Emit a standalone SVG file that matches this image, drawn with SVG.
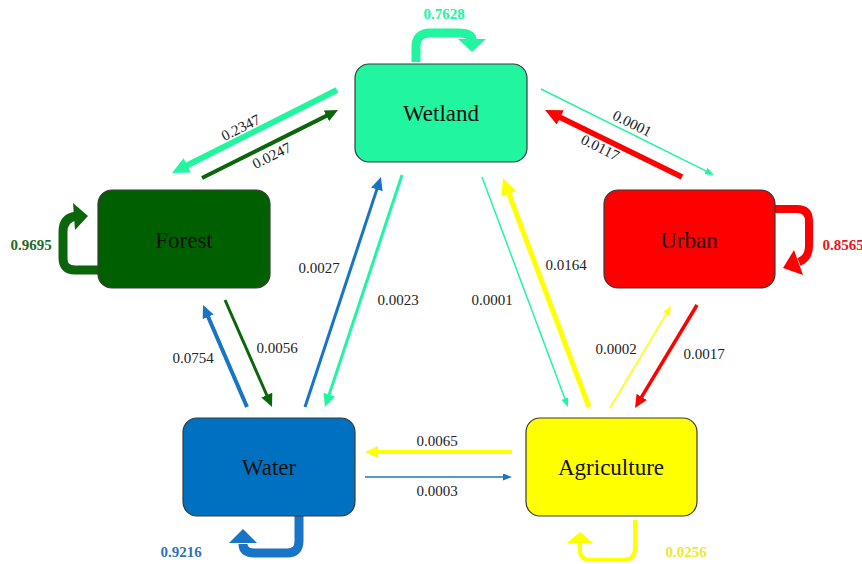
<svg xmlns="http://www.w3.org/2000/svg" width="862" height="564" viewBox="0 0 862 564">
<style>
.node{stroke:#3a3a3a;stroke-width:1.2}
.nl{font-family:"Liberation Serif","Times New Roman",serif;font-size:23px;fill:#111;text-anchor:middle}
.el{font-family:"Liberation Serif","Times New Roman",serif;font-size:15px;fill:#222;text-anchor:middle}
.sl{font-family:"Liberation Serif","Times New Roman",serif;font-size:15px;font-weight:bold;text-anchor:middle}
.e{fill:none;stroke-linecap:butt}
.loop{fill:none;stroke-linecap:butt;stroke-linejoin:round}
</style>
<defs>
<marker id="bG" markerUnits="userSpaceOnUse" markerWidth="17" markerHeight="16" refX="1" refY="8" orient="auto"><path d="M0,0 L17,8 L0,16 z" fill="#22F5A0"/></marker>
<marker id="bR" markerUnits="userSpaceOnUse" markerWidth="17" markerHeight="16" refX="1" refY="8" orient="auto"><path d="M0,0 L17,8 L0,16 z" fill="#FF0000"/></marker>
<marker id="bY" markerUnits="userSpaceOnUse" markerWidth="17" markerHeight="16" refX="1" refY="8" orient="auto"><path d="M0,0 L17,8 L0,16 z" fill="#FFFF00"/></marker>
<marker id="mD" markerUnits="userSpaceOnUse" markerWidth="13" markerHeight="12" refX="1" refY="6" orient="auto"><path d="M0,0 L13,6 L0,12 z" fill="#0B660B"/></marker>
<marker id="mB" markerUnits="userSpaceOnUse" markerWidth="13" markerHeight="12" refX="1" refY="6" orient="auto"><path d="M0,0 L13,6 L0,12 z" fill="#1874C4"/></marker>
<marker id="mG" markerUnits="userSpaceOnUse" markerWidth="13" markerHeight="12" refX="1" refY="6" orient="auto"><path d="M0,0 L13,6 L0,12 z" fill="#22F5A0"/></marker>
<marker id="mR" markerUnits="userSpaceOnUse" markerWidth="13" markerHeight="12" refX="1" refY="6" orient="auto"><path d="M0,0 L13,6 L0,12 z" fill="#FF0000"/></marker>
<marker id="mY" markerUnits="userSpaceOnUse" markerWidth="13" markerHeight="12" refX="1" refY="6" orient="auto"><path d="M0,0 L13,6 L0,12 z" fill="#FFFF00"/></marker>
<marker id="sG" markerUnits="userSpaceOnUse" markerWidth="9" markerHeight="7" refX="1" refY="3.5" orient="auto"><path d="M0,0 L9,3.5 L0,7 z" fill="#22F5A0"/></marker>
<marker id="sY" markerUnits="userSpaceOnUse" markerWidth="9" markerHeight="7" refX="1" refY="3.5" orient="auto"><path d="M0,0 L9,3.5 L0,7 z" fill="#FFFF00"/></marker>
<marker id="sB" markerUnits="userSpaceOnUse" markerWidth="9" markerHeight="7" refX="1" refY="3.5" orient="auto"><path d="M0,0 L9,3.5 L0,7 z" fill="#1874C4"/></marker>
</defs>
<rect width="862" height="564" fill="#ffffff"/>

<g id="connectors">
  <line class="e" x1="337" y1="90" x2="186.3" y2="165.8" stroke="#22F5A0" stroke-width="6" marker-end="url(#bG)"/>
  <line class="e" x1="202" y1="178" x2="327.3" y2="115.4" stroke="#0B660B" stroke-width="4" marker-end="url(#mD)"/>
  <line class="e" x1="541" y1="89" x2="706.8" y2="171.4" stroke="#22F5A0" stroke-width="1.5" marker-end="url(#sG)"/>
  <line class="e" x1="682" y1="177" x2="559.4" y2="117" stroke="#FF0000" stroke-width="5.5" marker-end="url(#bR)"/>
  <line class="e" x1="225" y1="300" x2="267.2" y2="396" stroke="#0B660B" stroke-width="3" marker-end="url(#mD)"/>
  <line class="e" x1="247" y1="407" x2="207.8" y2="316" stroke="#1874C4" stroke-width="4" marker-end="url(#mB)"/>
  <line class="e" x1="305" y1="407" x2="377.2" y2="188.4" stroke="#1874C4" stroke-width="3" marker-end="url(#mB)"/>
  <line class="e" x1="402" y1="175" x2="328.8" y2="395.6" stroke="#22F5A0" stroke-width="3" marker-end="url(#mG)"/>
  <line class="e" x1="482" y1="177" x2="565.2" y2="399.5" stroke="#22F5A0" stroke-width="1.5" marker-end="url(#sG)"/>
  <line class="e" x1="589" y1="407" x2="508.6" y2="193" stroke="#FFFF00" stroke-width="5" marker-end="url(#bY)"/>
  <line class="e" x1="610" y1="408" x2="666.9" y2="312.9" stroke="#FFFF00" stroke-width="1.5" marker-end="url(#sY)"/>
  <line class="e" x1="697" y1="305" x2="641.2" y2="397.7" stroke="#FF0000" stroke-width="3.5" marker-end="url(#mR)"/>
  <line class="e" x1="512" y1="452" x2="377" y2="452" stroke="#FFFF00" stroke-width="4" marker-end="url(#mY)"/>
  <line class="e" x1="365" y1="477" x2="504" y2="477" stroke="#1874C4" stroke-width="1.5" marker-end="url(#sB)"/>

  <!-- self loops -->
  <path class="loop" d="M416,62 V47 Q416,33 430,33 H458 Q472,33 472,40" stroke="#22F5A0" stroke-width="9"/>
  <polygon points="458,39 486,39 472,52" fill="#22F5A0"/>
  <path class="loop" d="M98,270 H75 Q63,270 63,258 V232 Q63,218 76,216" stroke="#0B660B" stroke-width="9"/>
  <polygon points="73,203 88,216 75,230" fill="#0B660B"/>
  <path class="loop" d="M775,209 H797 Q809,209 809,221 V246 Q809,258 799,262" stroke="#FF0000" stroke-width="8"/>
  <polygon points="794,250 803,275 783,268" fill="#FF0000"/>
  <path class="loop" d="M299,516 V541 Q299,553 287,553 H255 Q243,553 243,544" stroke="#1874C4" stroke-width="9"/>
  <polygon points="229,543 257,543 243,529" fill="#1874C4"/>
  <path class="loop" d="M635,520 V548 Q635,560 623,560 H591 Q580,560 580,550 V543" stroke="#FFFF00" stroke-width="4"/>
  <polygon points="567,543 593,543 580,532" fill="#FFFF00"/>

  <!-- edge labels -->
  <text class="el" transform="translate(243,132) rotate(-26.5)">0.2347</text>
  <text class="el" transform="translate(274,160) rotate(-26.5)">0.0247</text>
  <text class="el" transform="translate(630,128) rotate(26.5)">0.0001</text>
  <text class="el" transform="translate(598,152) rotate(26.5)">0.0117</text>
  <text class="el" x="193" y="363">0.0754</text>
  <text class="el" x="277" y="353">0.0056</text>
  <text class="el" x="319" y="273">0.0027</text>
  <text class="el" x="398" y="305">0.0023</text>
  <text class="el" x="492" y="305">0.0001</text>
  <text class="el" x="566" y="270">0.0164</text>
  <text class="el" x="616" y="354">0.0002</text>
  <text class="el" x="704" y="359">0.0017</text>
  <text class="el" x="437" y="446">0.0065</text>
  <text class="el" x="437" y="496">0.0003</text>

  <text class="sl" x="444" y="19" fill="#22F5A0">0.7628</text>
  <text class="sl" x="31" y="250" fill="#1F6B1F">0.9695</text>
  <text class="sl" x="843" y="250" fill="#E8141C">0.8565</text>
  <text class="sl" x="181" y="557" fill="#2E75B6">0.9216</text>
  <text class="sl" x="686" y="557" fill="#EEE830">0.0256</text>
</g>

<g id="wetland">
  <rect class="node" x="355" y="64" width="172" height="98" rx="14" fill="#22F5A0"/>
  <text class="nl" x="441" y="121">Wetland</text>
</g>
<g id="forest">
  <rect class="node" x="98" y="190" width="172" height="98" rx="14" fill="#006000"/>
  <text class="nl" x="184" y="248">Forest</text>
</g>
<g id="urban">
  <rect class="node" x="604" y="190" width="171" height="98" rx="14" fill="#FF0000"/>
  <text class="nl" x="689" y="248">Urban</text>
</g>
<g id="water">
  <rect class="node" x="183" y="418" width="172" height="98" rx="14" fill="#0070C0"/>
  <text class="nl" x="269" y="475">Water</text>
</g>
<g id="agriculture">
  <rect class="node" x="526" y="418" width="171" height="98" rx="14" fill="#FFFF00"/>
  <text class="nl" x="611" y="475">Agriculture</text>
</g>
</svg>
